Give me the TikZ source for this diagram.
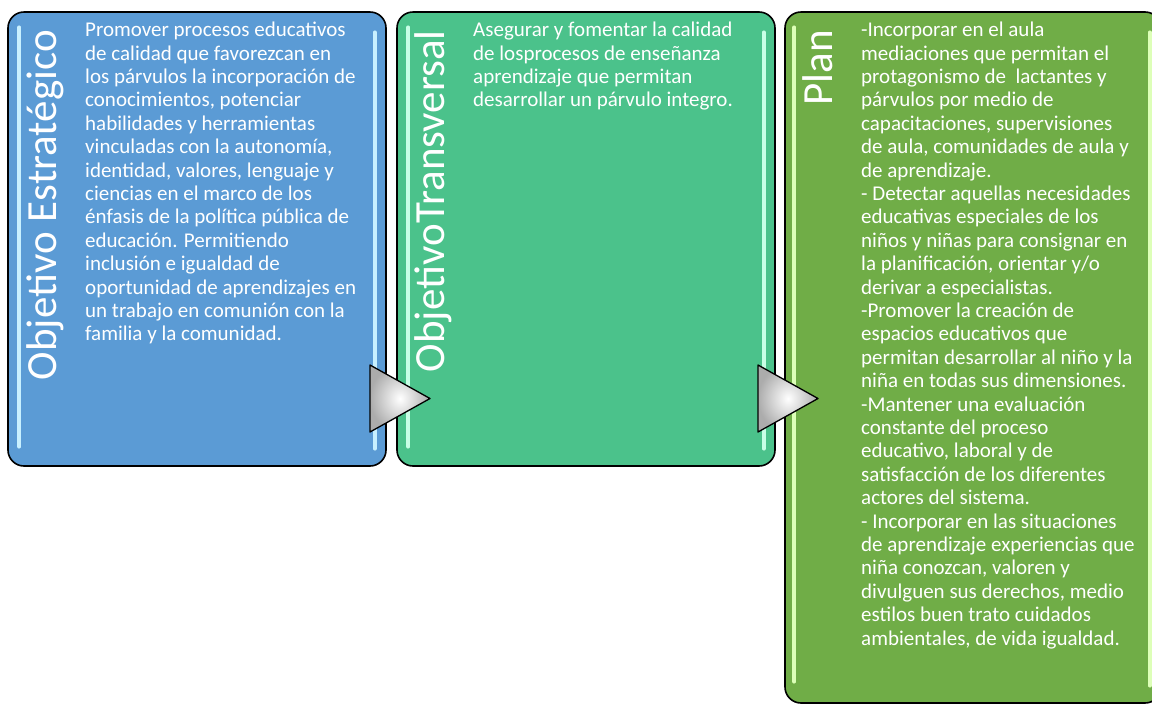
\documentclass[tikz,border=0pt]{standalone}
\usepackage{fontspec}
\setmainfont{Carlito}
\usepackage{tikz}
\usetikzlibrary{calc,positioning}
\definecolor{azul}{HTML}{5B9BD5}
\definecolor{verdeagua}{HTML}{4BC28B}
\definecolor{verdeplan}{HTML}{70AD47}
\definecolor{brilloazul}{HTML}{C8F0FF}
\definecolor{brilloagua}{HTML}{C8FFE6}
\definecolor{brilloplan}{HTML}{DDFFB8}

\begin{document}
\begin{tikzpicture}
[x=1pt,y=-1pt,
caja/.style={draw=black,line width=1.6pt,rounded corners=16pt,inner sep=0pt},
brillo/.style={line width=3.5pt,line cap=round},
texto/.style={text=white,align=left,inner sep=0pt,font=\fontsize{21}{23.4}\selectfont},
titulo/.style={text=white,rotate=90,inner sep=0pt,font=\fontsize{43}{50}\selectfont},
flecha/.style={draw=black,line width=1.3pt,line join=round,shading=radial,inner color=white,outer color=gray!65}]
\useasboundingbox (0,0) rectangle (1152,705);

\node (est) at (197,239) [caja,fill=azul,minimum width=378pt,minimum height=454pt] {};
\node (tra) at (586,239) [caja,fill=verdeagua,minimum width=378pt,minimum height=454pt] {};
\node (pla) at (973,357.5) [caja,fill=verdeplan,minimum width=376pt,minimum height=691pt] {};

\draw[brillo,brilloazul] ($(est.north west)+(12,16)$) -- ($(est.south west)+(12,-20)$);
\draw[brillo,brilloazul] ($(est.north east)+(-12,21)$) -- ($(est.south east)+(-12,-18)$);
\draw[brillo,brilloagua] ($(tra.north west)+(12,16)$) -- ($(tra.south west)+(12,-20)$);
\draw[brillo,brilloagua] ($(tra.north east)+(-12,21)$) -- ($(tra.south east)+(-12,-18)$);
\draw[brillo,brilloplan] ($(pla.north west)+(10,16)$) -- ($(pla.south west)+(10,-22)$);
\draw[brillo,brilloplan] ($(pla.north east)+(-12,21)$) -- ($(pla.south east)+(-12,-18)$);

\node (est-tit) at (56,30) [titulo,anchor=base east] {Objetivo Estratégico};
\node (tra-tit) at (444,30) [titulo,anchor=base east] {ObjetivoTransversal};
\node (pla-tit) at (832,30) [titulo,anchor=base east] {Plan};

\node (est-txt) at (85,22) [texto,anchor=north west] {Promover procesos educativos\\
de calidad que favorezcan en\\
los párvulos la incorporación de\\
conocimientos, potenciar\\
habilidades y herramientas\\
vinculadas con la autonomía,\\
identidad, valores, lenguaje y\\
ciencias en el marco de los\\
énfasis de la política pública de\\
educación. Permitiendo\\
inclusión e igualdad de\\
oportunidad de aprendizajes en\\
un trabajo en comunión con la\\
familia y la comunidad.};

\node (tra-txt) at (473,22) [texto,anchor=north west] {Asegurar y fomentar la calidad\\
de losprocesos de enseñanza\\
aprendizaje que permitan\\
desarrollar un párvulo integro.};

\node (pla-txt) at (861,22) [texto,anchor=north west] {-Incorporar en el aula\\
mediaciones que permitan el\\
protagonismo de\ \ lactantes y\\
párvulos por medio de\\
capacitaciones, supervisiones\\
de aula, comunidades de aula y\\
de aprendizaje.\\
- Detectar aquellas necesidades\\
educativas especiales de los\\
niños y niñas para consignar en\\
la planificación, orientar y/o\\
derivar a especialistas.\\
-Promover la creación de\\
espacios educativos que\\
permitan desarrollar al niño y la\\
niña en todas sus dimensiones.\\
-Mantener una evaluación\\
constante del proceso\\
educativo, laboral y de\\
satisfacción de los diferentes\\
actores del sistema.\\
- Incorporar en las situaciones\\
de aprendizaje experiencias que\\
niña conozcan, valoren y\\
divulguen sus derechos, medio\\
estilos buen trato cuidados\\
ambientales, de vida igualdad.};

\coordinate (f1) at (370,398.5);
\coordinate (f2) at (758,398.5);
\shadedraw[flecha] ($(f1)+(0,-33.5)$) -- ($(f1)+(60,0)$) -- ($(f1)+(0,33.5)$) -- cycle;
\shadedraw[flecha] ($(f2)+(0,-33.5)$) -- ($(f2)+(60,0)$) -- ($(f2)+(0,33.5)$) -- cycle;
\end{tikzpicture}
\end{document}
